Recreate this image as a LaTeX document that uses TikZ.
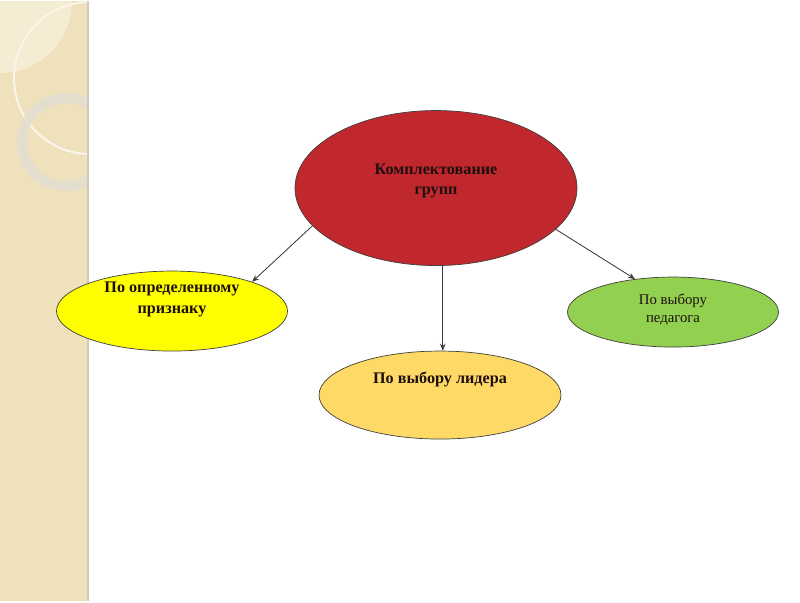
\documentclass[tikz,border=0pt]{standalone}
\usepackage{fontspec}
\setmainfont{Liberation Serif}
\usepackage{xcolor}
\usepackage{tikz}
\usetikzlibrary{shapes.geometric,arrows.meta}
\definecolor{bandfill}{RGB}{238,225,188}
\definecolor{bandlight}{RGB}{245,236,212}
\definecolor{bandedge}{RGB}{208,202,190}
\definecolor{ringgray}{RGB}{226,222,210}
\definecolor{grpred}{RGB}{192,40,45}
\definecolor{grpyellow}{RGB}{255,255,0}
\definecolor{grpgreen}{RGB}{146,208,80}
\definecolor{grporange}{RGB}{255,217,102}
\definecolor{grpline}{RGB}{60,60,60}
\definecolor{grptext}{RGB}{30,15,15}
\tikzset{
  grpnode/.style={ellipse, draw=black!75, line width=0.5pt,
                  inner sep=0pt},
  grplabel/.style={font=\fontsize{11.5}{14.8}\selectfont\bfseries,
                   text=grptext, align=center},
  grplabel plain/.style={grplabel,
                         font=\fontsize{10.5}{12.8}\selectfont},
  grpconn/.style={draw=grpline, line width=0.6pt,
                  -{Stealth[length=5pt,width=4pt]}},
}

\begin{document}
\begin{tikzpicture}
\fill[white] (0,0) rectangle (20,15);
% Decorated band on the left edge
\fill[bandfill] (0,0) rectangle (2.2,15);
\begin{scope}
  \clip (0,0) rectangle (2.2,15);
  \fill[bandlight] (0,15) -- (1.8,15) arc[start angle=0, end angle=-90, radius=1.8] -- cycle;
  \draw[white!55!bandlight, line width=1.4pt] (2.25,13.075) circle[radius=1.9];
  \draw[ringgray, line width=7pt, opacity=0.85] (1.65,11.475) circle[radius=1.1];
\end{scope}
\draw[bandedge, line width=1.5pt] (2.2,0) -- (2.2,15);
% The four groups
\node[grpnode, fill=grpred, minimum width=7.05cm, minimum height=3.875cm]
  (top) at (10.9,10.325) {};
\node[grpnode, fill=grpyellow, minimum width=5.775cm, minimum height=2cm]
  (sign) at (4.3,7.25) {};
\node[grpnode, fill=grporange, minimum width=6.05cm, minimum height=2.2cm]
  (lead) at (11,5.15) {};
\node[grpnode, fill=grpgreen, minimum width=5.275cm, minimum height=1.75cm]
  (teach) at (16.825,7.225) {};
\node[grplabel] (top-t) at ([yshift=0.175cm]top.center) {Комплектование\\групп};
\node[grplabel] (sign-t) at ([yshift=0.29cm]sign.center) {По определенному\\признаку};
\node[grplabel] (lead-t) at ([yshift=0.4cm]lead.center) {По выбору лидера};
\node[grplabel plain] (teach-t) at ([yshift=0.05cm]teach.center) {По выбору\\педагога};
% Connectors
\draw[grpconn] (top.197.6) -- (sign.20.5);
\draw[grpconn] (top.275) -- (top.275 |- lead.north);
\draw[grpconn] (top.341.6) -- (teach.139.4);
\end{tikzpicture}
\end{document}
